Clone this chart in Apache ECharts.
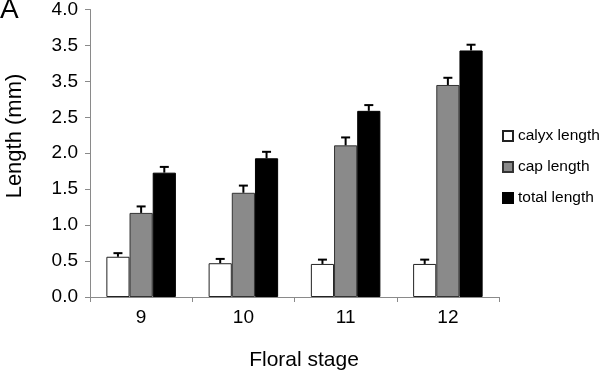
<!DOCTYPE html>
<html>
<head>
<meta charset="utf-8">
<script src="https://cdn.jsdelivr.net/npm/echarts@6/dist/echarts.min.js"></script>
<style>html,body{margin:0;padding:0;background:#fff}#c{width:600px;height:374px}</style>
</head>
<body>
<div id="c"></div>
<script>
var categories = ['9', '10', '11', '12'];
var yTickLabels = ['0.0', '0.5', '1.0', '1.5', '2.0', '2.5', '3.5', '3.5', '4.0'];
var calyxLength = [0.56, 0.47, 0.46, 0.46];
var calyxErr = [0.05, 0.06, 0.06, 0.06];
var capLength = [1.17, 1.45, 2.11, 2.95];
var capErr = [0.09, 0.10, 0.11, 0.10];
var totalLength = [1.73, 1.93, 2.59, 3.43];
var totalErr = [0.08, 0.09, 0.08, 0.08];
var seriesNames = ['calyx length', 'cap length', 'total length'];

var FONT = 'Liberation Sans, Arial, sans-serif';
var GAP = 0.32;
var chart = echarts.init(document.getElementById('c'), null, {renderer: 'canvas'});

function errData(vals, errs) {
  return vals.map(function (v, i) { return [i, v, errs[i]]; });
}
function errSeries(idx, vals, errs) {
  return {
    type: 'custom',
    z: 10,
    silent: true,
    encode: {x: 0, y: 1},
    data: errData(vals, errs),
    renderItem: function (params, api) {
      var i = api.value(0), v = api.value(1), e = api.value(2);
      var base = api.coord([i, v]);
      var top = api.coord([i, v + e]);
      var band = api.size([1, 0])[0];
      var bw = band * (1 - GAP) / 3;
      var cx = base[0] + (idx - 1) * bw;
      var st = {stroke: '#000', lineWidth: 2};
      return {
        type: 'group',
        children: [
          {type: 'line', shape: {x1: cx, y1: base[1], x2: cx, y2: top[1]}, style: st},
          {type: 'line', shape: {x1: cx - 4.5, y1: top[1], x2: cx + 4.5, y2: top[1]}, style: st}
        ]
      };
    }
  };
}

var option = {
  animation: false,
  backgroundColor: '#fff',
  grid: {left: 90, right: 101, top: 8, bottom: 77},
  legend: {
    orient: 'vertical',
    left: 497,
    top: 122,
    itemWidth: 10,
    itemHeight: 10,
    itemGap: 13,
    icon: 'rect',
    data: seriesNames,
    textStyle: {fontFamily: FONT, fontSize: 15.5, color: '#000', lineHeight: 18}
  },
  xAxis: {
    type: 'category',
    data: categories,
    axisLine: {lineStyle: {color: '#8a8a8a', width: 1}},
    axisTick: {show: true, length: 5, lineStyle: {color: '#8a8a8a'}},
    axisLabel: {fontFamily: FONT, fontSize: 19, color: '#000', margin: 11}
  },
  yAxis: {
    type: 'value',
    min: 0,
    max: 4,
    interval: 0.5,
    splitLine: {show: false},
    axisLine: {show: true, lineStyle: {color: '#8a8a8a', width: 1}},
    axisTick: {show: true, length: 5, lineStyle: {color: '#8a8a8a'}},
    axisLabel: {
      fontFamily: FONT, fontSize: 19, color: '#000', margin: 12,
      formatter: function (v) { return yTickLabels[Math.round(v / 0.5)]; }
    }
  },
  graphic: [
    {type: 'text', left: 0, top: -4, style: {text: 'A', font: '28px ' + FONT, fill: '#000'}},
    {type: 'text', x: 15, y: 136, rotation: Math.PI / 2,
      style: {text: 'Length (mm)', font: '22px ' + FONT, fill: '#000', align: 'center', verticalAlign: 'middle'}},
    {type: 'text', x: 304, y: 360,
      style: {text: 'Floral stage', font: '21px ' + FONT, fill: '#000', align: 'center', verticalAlign: 'middle'}}
  ],
  series: [
    {name: seriesNames[0], type: 'bar', data: calyxLength, barGap: '0%', barCategoryGap: (GAP * 100) + '%',
      itemStyle: {color: '#ffffff', borderColor: '#222', borderWidth: 1}},
    {name: seriesNames[1], type: 'bar', data: capLength, barGap: '0%', barCategoryGap: (GAP * 100) + '%',
      itemStyle: {color: '#8a8a8a', borderColor: '#333', borderWidth: 1}},
    {name: seriesNames[2], type: 'bar', data: totalLength, barGap: '0%', barCategoryGap: (GAP * 100) + '%',
      itemStyle: {color: '#000', borderColor: '#000', borderWidth: 1}},
    errSeries(0, calyxLength, calyxErr),
    errSeries(1, capLength, capErr),
    errSeries(2, totalLength, totalErr)
  ]
};
chart.setOption(option);
</script>
</body>
</html>
